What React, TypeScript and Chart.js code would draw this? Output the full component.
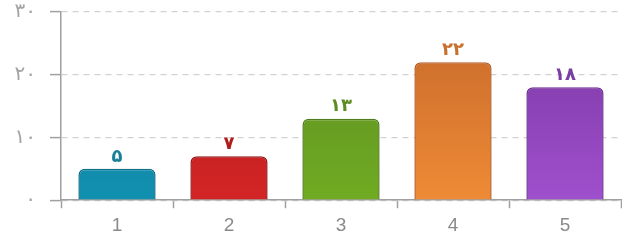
import React, { useEffect, useRef } from "react";
import { Chart, registerables } from "chart.js";

Chart.register(...registerables);

const categories = ["1", "2", "3", "4", "5"];
const values = [5, 7, 13, 22, 18];
const yTicks = [0, 10, 20, 30];
const topColors = ["#167a94", "#a9191b", "#5a8a22", "#c4672a", "#7935a0"];
const bottomColors = ["#1190b0", "#d42525", "#70ab22", "#ef8b36", "#9f50cd"];
const borderColors = ["#0f6f88", "#961416", "#4f7d1d", "#b85d24", "#6c2f92"];
const labelColors = ["#1a7f98", "#b01c1c", "#5e8c22", "#c8702e", "#7a3da0"];

const faDigits = "۰۱۲۳۴۵۶۷۸۹";
const toFa = (n: number | string) => String(n).replace(/[0-9]/g, (d) => faDigits[+d]);

const valueLabels = {
  id: "valueLabels",
  afterDatasetsDraw(chart: any) {
    const ctx = chart.ctx;
    const meta = chart.getDatasetMeta(0);
    ctx.save();
    ctx.font = "bold 18px 'DejaVu Sans'";
    ctx.textAlign = "center";
    ctx.textBaseline = "middle";
    meta.data.forEach((el: any, i: number) => {
      ctx.fillStyle = labelColors[i];
      ctx.fillText(toFa(values[i]), el.x, el.y - 12);
    });
    ctx.restore();
  },
};

export default function App() {
  const ref = useRef<HTMLCanvasElement | null>(null);
  useEffect(() => {
    document.body.style.margin = "0";
    document.body.style.overflow = "hidden";
    const chart = new Chart(ref.current!, {
      type: "bar",
      data: {
        labels: categories,
        datasets: [
          {
            data: values,
            backgroundColor: (c: any) => {
              const area = c.chart.chartArea;
              if (!area) return topColors[c.dataIndex];
              const el = c.chart.getDatasetMeta(0).data[c.dataIndex];
              const top = el && isFinite(el.y) ? el.y : area.top;
              const g = c.chart.ctx.createLinearGradient(0, top, 0, area.bottom);
              g.addColorStop(0, topColors[c.dataIndex]);
              g.addColorStop(1, bottomColors[c.dataIndex]);
              return g;
            },
            borderColor: borderColors,
            borderWidth: 1.5,
            borderRadius: { topLeft: 6, topRight: 6, bottomLeft: 0, bottomRight: 0 },
            borderSkipped: "bottom",
            barPercentage: 0.69,
            categoryPercentage: 1,
          },
        ],
      },
      options: {
        animation: false,
        responsive: true,
        maintainAspectRatio: false,
        layout: { padding: { top: 12, right: 1, left: 0, bottom: 1 } },
        plugins: { legend: { display: false }, tooltip: { enabled: false } },
        scales: {
          x: {
            grid: {
              display: true,
              offset: true,
              drawOnChartArea: false,
              drawTicks: true,
              tickLength: 8,
              tickColor: "#a0a0a0",
              tickWidth: 1.5,
            },
            border: { display: true, color: "#a0a0a0", width: 1.5 },
            ticks: {
              color: "#8a8a8a",
              font: { family: "'Liberation Sans'", size: 19 },
              padding: 6,
            },
          },
          y: {
            min: 0,
            max: 30,
            afterBuildTicks: (axis: any) => {
              axis.ticks = yTicks.map((v) => ({ value: v }));
            },
            afterFit: (axis: any) => {
              axis.width = 61;
              axis.paddingTop = 0;
              axis.paddingBottom = 0;
            },
            grid: {
              color: "#d2d2d2",
              lineWidth: 1.2,
              drawTicks: true,
              tickLength: 11,
              tickColor: "#a0a0a0",
              tickWidth: 1.5,
              tickBorderDash: [],
            },
            border: { display: true, color: "#a0a0a0", width: 1.5, dash: [6, 5] },
            ticks: {
              color: "#a3a3a3",
              font: { family: "'DejaVu Sans'", size: 20 },
              padding: 14,
              callback: (v: any) => toFa(v),
            },
          },
        },
      } as any,
      plugins: [valueLabels],
    });
    return () => chart.destroy();
  }, []);
  return (
    <div style={{ position: "fixed", left: 0, top: 0, width: 622, height: 244 }}>
      <canvas ref={ref} />
    </div>
  );
}
